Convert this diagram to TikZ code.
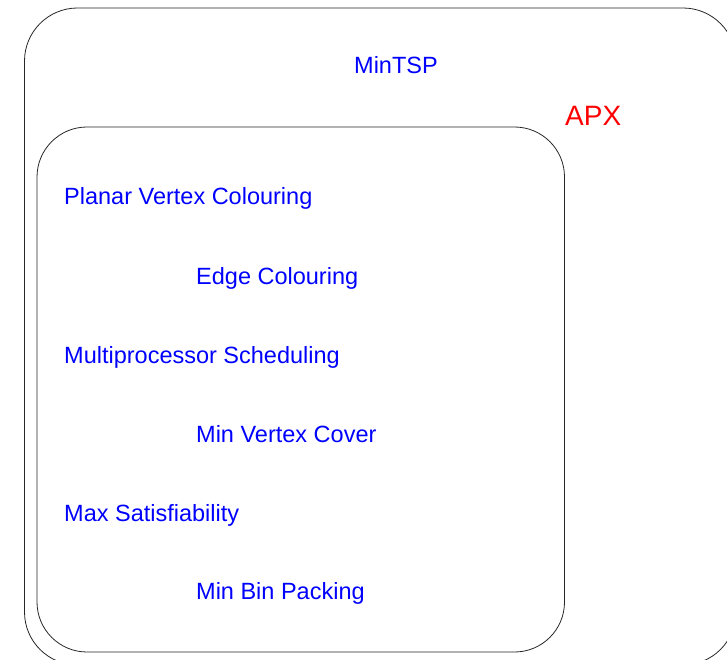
\documentclass[tikz,border=0pt]{standalone}
\usepackage{fontspec}
\setmainfont{Liberation Sans}
\begin{document}
\begin{tikzpicture}[x=1pt,y=-1pt,
  region/.style={draw=black!85, line width=0.8pt, rounded corners=50pt},
  problem/.style={anchor=base west, inner sep=0pt, text=blue, font=\fontsize{23.5}{28}\selectfont},
  classlabel/.style={anchor=base west, inner sep=0pt, text=red, font=\fontsize{28}{33}\selectfont}]
  \useasboundingbox (0,0) rectangle (727,660);
  \clip (0,0) rectangle (727,660);
  % outer class region (extends past the frame)
  \draw[region, rounded corners=53pt] (24.5,8) rectangle (736,665);
  % inner class region
  \draw[region] (37,127) rectangle (564.5,652);
  \node[problem] (mintsp) at (354,74) {MinTSP};
  \node[classlabel] (apx) at (565,126) {APX};
  \node[problem] (pvc) at (64,205) {Planar Vertex Colouring};
  \node[problem] (ec) at (196,284) {Edge Colouring};
  \node[problem] (ms) at (64,363) {Multiprocessor Scheduling};
  \node[problem] (mvc) at (196,442) {Min Vertex Cover};
  \node[problem] (msat) at (64,521) {Max Satisfiability};
  \node[problem] (mbp) at (196,599) {Min Bin Packing};
\end{tikzpicture}
\end{document}
